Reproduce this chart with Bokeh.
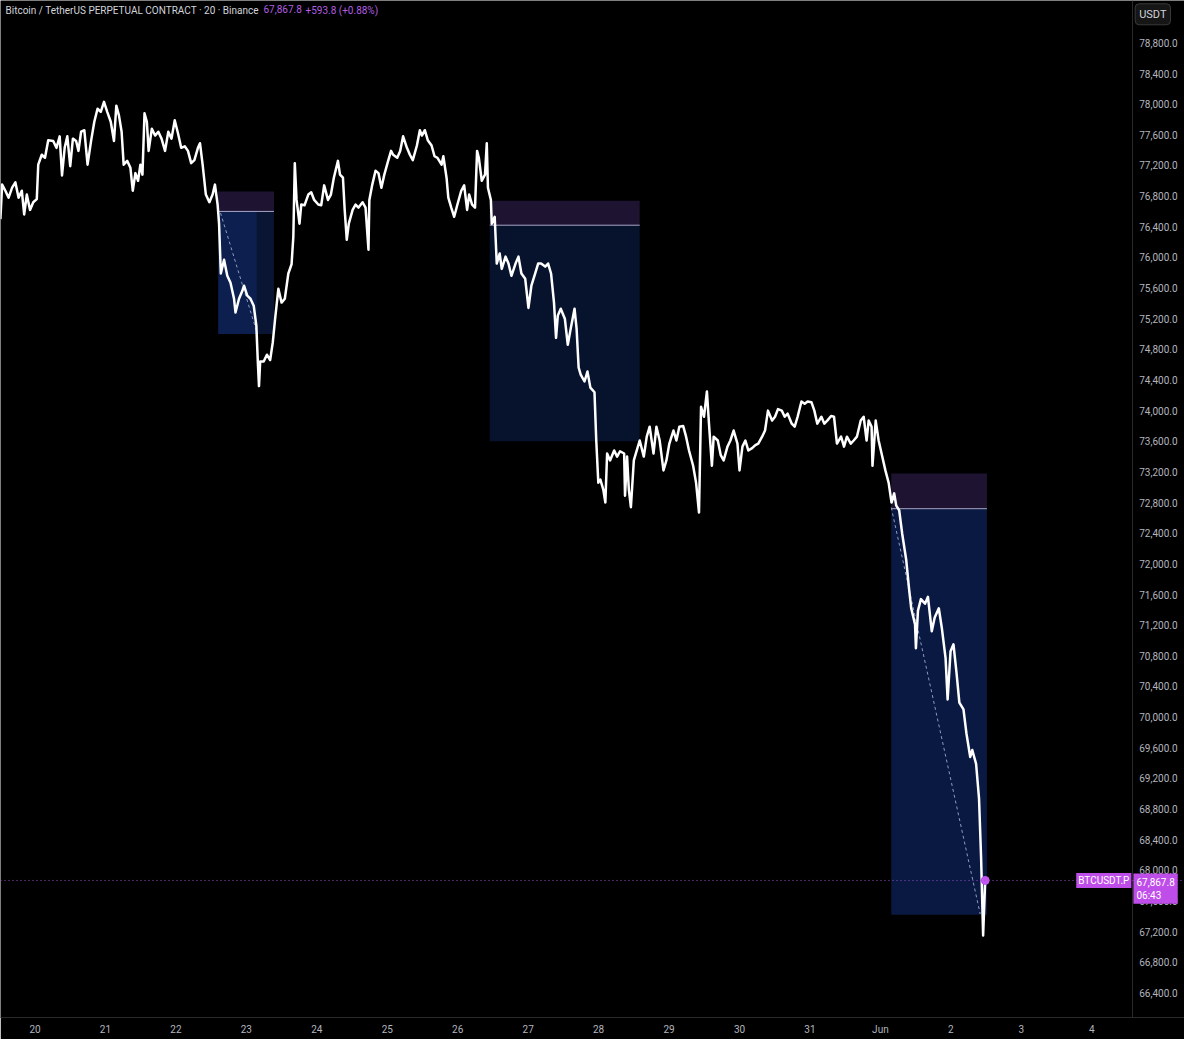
from bokeh.plotting import figure
from bokeh.models import Range1d, FixedTicker, NumeralTickFormatter, Label, Span
from bokeh.embed import file_html
from bokeh.resources import INLINE

# BTCUSDT.P 20m, hours counted from 20 May 00:00
hours = [
    -11.8, -11.2, -10.1, -9.0, -7.8, -6.7, -5.6, -4.5, -3.7, -2.8,
    -1.7, -0.6, 0.6, 1.1, 2.3, 3.4, 4.5, 6.2, 7.3, 8.4,
    9.2, 10.1, 11.0, 12.0, 12.9, 14.0, 14.8, 15.7, 16.8, 17.9,
    19.1, 20.2, 21.3, 22.4, 23.5, 24.6, 25.8, 26.9, 27.7, 28.6,
    29.5, 30.2, 31.4, 32.5, 33.3, 34.2, 35.1, 35.9, 36.6, 37.3,
    38.1, 38.7, 39.8, 40.9, 42.0, 43.1, 44.3, 45.4, 46.5, 47.6,
    48.7, 49.8, 51.0, 52.1, 53.2, 54.3, 55.5, 56.2, 57.1, 58.2,
    59.4, 60.5, 61.3, 62.2, 62.7, 63.3, 64.4, 65.5, 66.6, 67.8,
    68.3, 69.5, 70.6, 71.2, 72.3, 73.4, 74.5, 75.4, 75.9, 76.3,
    76.7, 77.9, 79.0, 80.1, 81.0, 81.8, 82.9, 84.0, 85.1, 86.3,
    87.4, 88.0, 88.5, 89.1,
    90.1, 90.7, 91.8, 93.1, 94.1, 95.1, 96.5, 97.5, 98.5, 99.8,
    100.8, 101.8, 103.2, 103.9, 104.9, 105.5, 106.2, 106.9, 108.2, 109.2,
    110.2, 111.6, 112.6, 113.6, 113.9, 114.9, 116.0, 117.0, 118.0, 119.0,
    120.3, 121.3, 122.0, 123.4, 124.4, 125.4, 126.7, 127.7, 128.7, 130.1,
    131.1, 131.8, 132.8, 133.8, 135.1, 136.1, 137.1, 138.5, 139.1, 140.2,
    140.8, 141.8, 142.8, 143.9, 145.2, 146.2, 147.2, 147.9, 148.9, 149.9,
    150.6, 151.2, 152.2, 153.3, 153.9, 154.3, 155.3, 155.6, 156.6, 157.3,
    158.3, 159.0, 160.3, 161.3, 162.3, 163.7, 164.7, 165.7, 167.0, 168.1,
    169.1, 170.4, 171.4, 172.4, 173.8, 174.8, 175.8, 176.8, 177.5, 178.1,
    179.1, 180.5, 181.5, 182.5, 183.8, 184.5, 185.2, 185.9, 187.2, 188.2,
    189.2, 190.6, 191.2, 191.9, 192.6, 193.6, 194.3, 194.9, 195.9, 197.3,
    198.3, 199.3, 200.7, 201.0, 201.7, 202.3, 203.0, 204.0, 205.0, 206.0,
    207.4, 208.4, 209.4, 210.7, 211.7, 212.8, 214.1, 215.1, 216.1, 217.5,
    218.5, 219.5, 220.8, 221.8, 222.8, 224.2, 225.2, 226.2, 226.9, 227.9,
    228.9, 229.6, 230.6, 231.2, 232.6, 233.6, 234.6, 235.9, 236.9, 238.0,
    239.3, 240.0, 241.0, 242.0, 243.0, 244.3, 245.4, 246.4, 247.7, 248.7,
    249.7, 251.1, 252.1, 253.1, 254.4, 255.4, 256.4, 257.8, 258.8, 259.8,
    261.1, 262.2, 263.2, 264.5, 265.5, 266.5, 267.9, 268.9, 269.9, 271.2,
    272.2, 273.2, 274.6, 275.6, 276.6, 277.9, 278.9, 280.0, 281.3, 282.3,
    283.3, 284.0, 285.0, 285.3, 286.4, 287.4, 288.4, 289.7, 290.8, 291.8,
    292.7, 293.4, 294.4, 295.4, 296.8, 297.8, 298.5, 299.8, 300.1, 300.8,
    301.8, 303.2, 304.2, 305.5, 306.5, 307.9, 308.9, 310.2, 310.9, 311.9,
    312.9, 313.9, 314.9, 316.3, 317.3, 318.6, 319.3, 320.6, 321.6, 322.3,
    323.0, 323.7,
]
prices = [
    76500, 76950, 76870, 76780, 76910, 76980, 76780, 76870, 76560, 76820,
    76620, 76720, 76760, 77210, 77340, 77300, 77530, 77520, 77430, 77580,
    77070, 77430, 77580, 77190, 77550, 77520, 77390, 77640, 77660, 77210,
    77520, 77770, 77940, 77900, 78030, 77900, 77770, 77520, 77980, 77850,
    77640, 77210, 77260, 77170, 76870, 77100, 77000, 77210, 77080, 77880,
    77770, 77390, 77680, 77590, 77640, 77550, 77390, 77640, 77550, 77790,
    77620, 77430, 77450, 77390, 77230, 77270, 77430, 77490, 77210, 76820,
    76720, 76820, 76950, 76690, 76440, 75790, 75970, 75760, 75670, 75460,
    75280, 75460, 75560, 75630, 75500, 75460, 75370, 75110, 74640, 74320,
    74640, 74640, 74730, 74660, 74890, 75200, 75590, 75410, 75460, 75790,
    75910, 76270, 77230, 76750,
    76440, 76690, 76680, 76820, 76850, 76750, 76690, 76680, 76940, 76750,
    76820, 77040, 77260, 77080, 77040, 76620, 76230, 76440, 76620, 76690,
    76650, 76720, 76650, 76100, 76750, 76950, 77130, 77100, 76910, 77080,
    77260, 77390, 77340, 77300, 77390, 77580, 77430, 77340, 77270, 77460,
    77660, 77590, 77660, 77530, 77460, 77320, 77300, 77210, 77320, 77040,
    76780, 76650, 76530, 76690, 76870, 76940, 76620, 76820, 76690, 76650,
    77390, 77300, 77000, 77080, 77490, 76910, 76750, 76440, 76530, 75920,
    76050, 75850, 76010, 75920, 75760, 75920, 76010, 75790, 75720, 75340,
    75630, 75790, 75920, 75920, 75880, 75920, 75790, 75410, 74950, 75240,
    75330, 75200, 74860, 75070, 75330, 75070, 74560, 74470, 74380, 74510,
    74300, 74240, 73610, 73060, 73100, 72970, 72800, 73440, 73350, 73480,
    73400, 73470, 73440, 72890, 73400, 72970, 72740, 73350, 73480, 73610,
    73400, 73660, 73790, 73440, 73790, 73610, 73220, 73350, 73570, 73740,
    73610, 73790, 73800, 73660, 73480, 73280, 73060, 72670, 74050, 73920,
    74250, 73830, 73280, 73660, 73610, 73420, 73350, 73530, 73610, 73740,
    73570, 73220, 73530, 73610, 73480, 73510, 73550, 73570, 73660, 73740,
    74000, 73870, 73920, 74020, 74000, 73920, 73960, 73830, 73790, 73920,
    74120, 74090, 74120, 74110, 74000, 73830, 73920, 73830, 73870, 73930,
    73920, 73570, 73660, 73530, 73660, 73570, 73610, 73660, 73870, 73920,
    73610, 73870, 73790, 73280, 73870, 73610, 73440, 73220, 73060, 72800,
    72920, 72760, 72700, 72400, 72050, 71660, 71420, 71210, 70900, 71390,
    71540, 71480, 71570, 71120, 71300, 71420, 71170, 70770, 70230, 70860,
    70950, 70590, 70190, 70100, 69790, 69480, 69570, 69390, 68940, 68170,
    67150, 67867.8,
]
assert len(hours) == len(prices)

last_price = 67867.8

# short-position boxes: start/end hour, stop (top), entry, target (bottom)
box_start = [62.4, 154.9, 291.7]
box_end = [81.4, 206.0, 324.3]
box_stop = [76860, 76740, 73180]
box_entry = [76600, 76420, 72720]
box_target = [75000, 73600, 67420]
box1_hit = 75.6  # where the first trade reached its target

# dashed projection lines (start hour, start price, end hour, end price)
proj_x0 = [63.2, 291.7]
proj_y0 = [76580, 72735]
proj_x1 = [75.6, 322.0]
proj_y1 = [75020, 67430]

day_ticks = [24 * i for i in range(16)]
day_labels = ["20", "21", "22", "23", "24", "25", "26", "27", "28", "29",
              "30", "31", "Jun", "2", "3", "4"]
price_ticks = list(range(66400, 79200, 400))

scale_edge = 373.8  # hour at which the price scale starts

FONT = "Roboto"
GREY = "#b2b5be"
PURPLE = "#bf4de9"

p = figure(width=1184, height=1039, output_backend="svg", toolbar_location=None,
           x_range=Range1d(-11.76, 391.6), y_range=Range1d(66079, 79353),
           y_axis_location="right", background_fill_color="black",
           border_fill_color="black", min_border_left=0, min_border_top=0,
           min_border_right=0, min_border_bottom=22)
p.grid.visible = False
p.outline_line_color = None

# axes
p.xaxis.ticker = FixedTicker(ticks=day_ticks)
p.xaxis.major_label_overrides = dict(zip(day_ticks, day_labels))
p.yaxis.ticker = FixedTicker(ticks=price_ticks)
p.yaxis.formatter = NumeralTickFormatter(format="0,0.0")
p.yaxis.fixed_location = scale_edge
for ax in (p.xaxis[0], p.yaxis[0]):
    ax.axis_line_color = "#2a2a2a"
    ax.major_tick_line_color = None
    ax.minor_tick_line_color = None
    ax.major_tick_out = 0
    ax.minor_tick_out = 0
    ax.major_label_text_color = GREY
    ax.major_label_text_font = FONT
    ax.major_label_text_font_size = "10px"
p.yaxis.major_label_standoff = 7
p.xaxis.major_label_standoff = 6

# position boxes
p.quad(left=box_start, right=box_end, top=box_stop, bottom=box_entry,
       fill_color="#1e1432", line_color=None)
p.quad(left=box_start[1:], right=box_end[1:], top=box_entry[1:], bottom=box_target[1:],
       fill_color=["#07132d", "#0a1942"], line_color=None)
p.quad(left=[box_start[0], box1_hit], right=[box1_hit, box_end[0]],
       top=[box_entry[0]] * 2, bottom=[box_target[0]] * 2,
       fill_color=["#0c1f4e", "#0a1533"], line_color=None)
p.segment(x0=box_start, x1=box_end, y0=box_entry, y1=box_entry,
          line_color="#a8a6c8", line_width=1)
p.segment(x0=proj_x0, y0=proj_y0, x1=proj_x1, y1=proj_y1,
          line_color="#8f9bc0", line_width=1, line_dash="3 3")

# last price line
p.add_layout(Span(location=last_price, dimension="width", line_color="#9b4fd0",
                  line_dash="1 3", line_width=1))

p.line(hours, prices, line_color="white", line_width=2.5, line_join="round")
p.scatter([hours[-1]], [last_price], size=8, color="#c455f2")

# header
p.add_layout(Label(x=5, y=79290, x_units="screen", text_baseline="top",
                   text="Bitcoin / TetherUS PERPETUAL CONTRACT · 20 · Binance",
                   text_color="#d1d4dc", text_font=FONT, text_font_size="10px"))
p.add_layout(Label(x=263, y=79290, x_units="screen", text_baseline="top",
                   text="67,867.8", text_color="#b35ee0", text_font=FONT,
                   text_font_size="10px"))
p.add_layout(Label(x=305, y=79290, x_units="screen", text_baseline="top",
                   text="+593.8 (+0.88%)", text_color="#b35ee0", text_font=FONT,
                   text_font_size="10px"))

# right-hand tags
p.add_layout(Label(x=scale_edge - 0.3, y=last_price, text="BTCUSDT.P", text_align="right",
                   text_baseline="middle", text_color="white", text_font=FONT,
                   text_font_size="10px", background_fill_color=PURPLE, padding=2))
p.add_layout(Label(x=scale_edge + 0.4, y=last_price + 90, text="67,867.8\n06:43",
                   text_baseline="top", text_color="white", text_font=FONT,
                   text_font_size="10px", background_fill_color=PURPLE, padding=3))
p.add_layout(Label(x=scale_edge + 1.0, y=79310, text="USDT", text_baseline="top",
                   text_color="#d1d4dc", text_font=FONT, text_font_size="11px",
                   background_fill_color="#161616", border_line_color="#3a3a3a",
                   border_radius=4, padding=4))

open("out.html", "w").write(file_html(p, INLINE))
